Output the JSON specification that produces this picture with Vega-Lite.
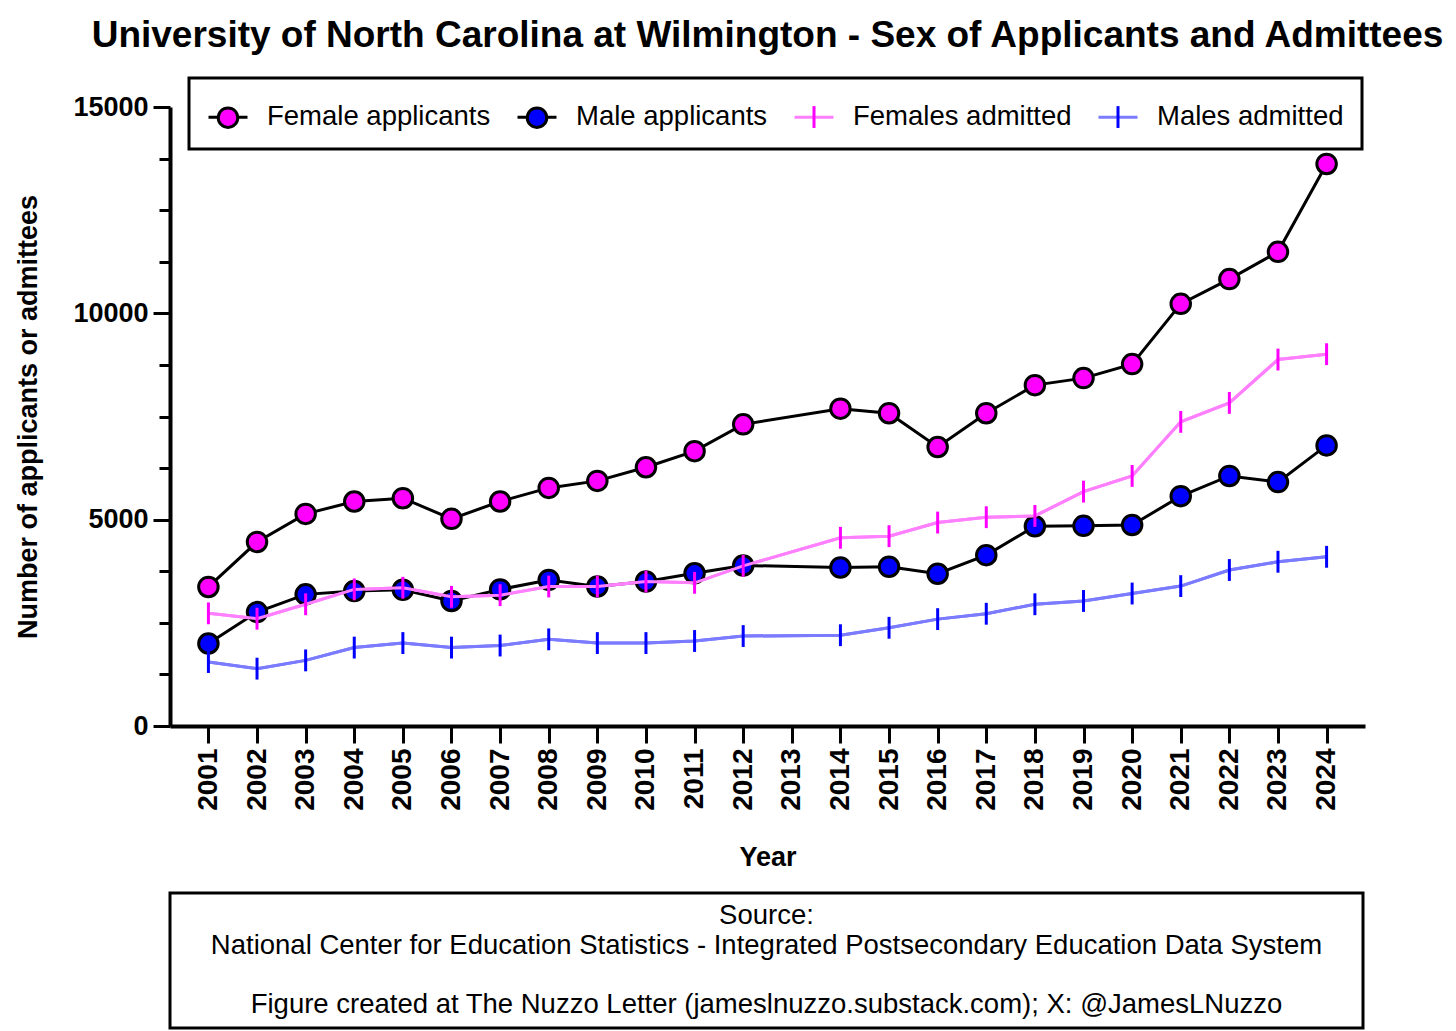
{
  "$schema": "https://vega.github.io/schema/vega-lite/v6.json",
  "background": "white",
  "padding": {"left": 14, "top": 17, "right": 0, "bottom": 0},
  "config": {
    "font": "Liberation Sans",
    "view": {"stroke": null},
    "axis": {"labelColor": "black", "titleColor": "black", "domainColor": "black", "tickColor": "black", "grid": false}
  },
  "spacing": 20,
  "vconcat": [
    {
      "width": 1195,
      "height": 619,
      "title": {
        "text": "University of North Carolina at Wilmington - Sex of Applicants and Admittees",
        "fontSize": 37,
        "fontWeight": "bold",
        "anchor": "middle",
        "frame": "group",
        "offset": 38,
        "color": "black"
      },
      "data": {
        "values": [
          {"series": "Female applicants", "year": 2001, "value": 3370},
          {"series": "Female applicants", "year": 2002, "value": 4460},
          {"series": "Female applicants", "year": 2003, "value": 5140},
          {"series": "Female applicants", "year": 2004, "value": 5440},
          {"series": "Female applicants", "year": 2005, "value": 5520},
          {"series": "Female applicants", "year": 2006, "value": 5020},
          {"series": "Female applicants", "year": 2007, "value": 5440},
          {"series": "Female applicants", "year": 2008, "value": 5770},
          {"series": "Female applicants", "year": 2009, "value": 5940},
          {"series": "Female applicants", "year": 2010, "value": 6270},
          {"series": "Female applicants", "year": 2011, "value": 6660},
          {"series": "Female applicants", "year": 2012, "value": 7310},
          {"series": "Female applicants", "year": 2014, "value": 7690},
          {"series": "Female applicants", "year": 2015, "value": 7580},
          {"series": "Female applicants", "year": 2016, "value": 6760},
          {"series": "Female applicants", "year": 2017, "value": 7580},
          {"series": "Female applicants", "year": 2018, "value": 8260},
          {"series": "Female applicants", "year": 2019, "value": 8430},
          {"series": "Female applicants", "year": 2020, "value": 8770},
          {"series": "Female applicants", "year": 2021, "value": 10230},
          {"series": "Female applicants", "year": 2022, "value": 10830},
          {"series": "Female applicants", "year": 2023, "value": 11490},
          {"series": "Female applicants", "year": 2024, "value": 13620},
          {"series": "Male applicants", "year": 2001, "value": 2000},
          {"series": "Male applicants", "year": 2002, "value": 2760},
          {"series": "Male applicants", "year": 2003, "value": 3190},
          {"series": "Male applicants", "year": 2004, "value": 3270},
          {"series": "Male applicants", "year": 2005, "value": 3300},
          {"series": "Male applicants", "year": 2006, "value": 3030},
          {"series": "Male applicants", "year": 2007, "value": 3310},
          {"series": "Male applicants", "year": 2008, "value": 3540},
          {"series": "Male applicants", "year": 2009, "value": 3380},
          {"series": "Male applicants", "year": 2010, "value": 3500},
          {"series": "Male applicants", "year": 2011, "value": 3700},
          {"series": "Male applicants", "year": 2012, "value": 3890},
          {"series": "Male applicants", "year": 2014, "value": 3840},
          {"series": "Male applicants", "year": 2015, "value": 3860},
          {"series": "Male applicants", "year": 2016, "value": 3690},
          {"series": "Male applicants", "year": 2017, "value": 4140},
          {"series": "Male applicants", "year": 2018, "value": 4840},
          {"series": "Male applicants", "year": 2019, "value": 4850},
          {"series": "Male applicants", "year": 2020, "value": 4870},
          {"series": "Male applicants", "year": 2021, "value": 5570},
          {"series": "Male applicants", "year": 2022, "value": 6060},
          {"series": "Male applicants", "year": 2023, "value": 5910},
          {"series": "Male applicants", "year": 2024, "value": 6800},
          {"series": "Females admitted", "year": 2001, "value": 2730},
          {"series": "Females admitted", "year": 2002, "value": 2600},
          {"series": "Females admitted", "year": 2003, "value": 2950},
          {"series": "Females admitted", "year": 2004, "value": 3310},
          {"series": "Females admitted", "year": 2005, "value": 3350},
          {"series": "Females admitted", "year": 2006, "value": 3130},
          {"series": "Females admitted", "year": 2007, "value": 3170},
          {"series": "Females admitted", "year": 2008, "value": 3380},
          {"series": "Females admitted", "year": 2009, "value": 3380},
          {"series": "Females admitted", "year": 2010, "value": 3500},
          {"series": "Females admitted", "year": 2011, "value": 3470},
          {"series": "Females admitted", "year": 2012, "value": 3880},
          {"series": "Females admitted", "year": 2014, "value": 4560},
          {"series": "Females admitted", "year": 2015, "value": 4600},
          {"series": "Females admitted", "year": 2016, "value": 4930},
          {"series": "Females admitted", "year": 2017, "value": 5060},
          {"series": "Females admitted", "year": 2018, "value": 5090},
          {"series": "Females admitted", "year": 2019, "value": 5680},
          {"series": "Females admitted", "year": 2020, "value": 6060},
          {"series": "Females admitted", "year": 2021, "value": 7370},
          {"series": "Females admitted", "year": 2022, "value": 7830},
          {"series": "Females admitted", "year": 2023, "value": 8880},
          {"series": "Females admitted", "year": 2024, "value": 9010},
          {"series": "Males admitted", "year": 2001, "value": 1550},
          {"series": "Males admitted", "year": 2002, "value": 1390},
          {"series": "Males admitted", "year": 2003, "value": 1590},
          {"series": "Males admitted", "year": 2004, "value": 1900},
          {"series": "Males admitted", "year": 2005, "value": 2010},
          {"series": "Males admitted", "year": 2006, "value": 1900},
          {"series": "Males admitted", "year": 2007, "value": 1950},
          {"series": "Males admitted", "year": 2008, "value": 2100},
          {"series": "Males admitted", "year": 2009, "value": 2010},
          {"series": "Males admitted", "year": 2010, "value": 2010},
          {"series": "Males admitted", "year": 2011, "value": 2060},
          {"series": "Males admitted", "year": 2012, "value": 2180},
          {"series": "Males admitted", "year": 2014, "value": 2200},
          {"series": "Males admitted", "year": 2015, "value": 2380},
          {"series": "Males admitted", "year": 2016, "value": 2590},
          {"series": "Males admitted", "year": 2017, "value": 2720},
          {"series": "Males admitted", "year": 2018, "value": 2950},
          {"series": "Males admitted", "year": 2019, "value": 3030},
          {"series": "Males admitted", "year": 2020, "value": 3210},
          {"series": "Males admitted", "year": 2021, "value": 3390},
          {"series": "Males admitted", "year": 2022, "value": 3780},
          {"series": "Males admitted", "year": 2023, "value": 3980},
          {"series": "Males admitted", "year": 2024, "value": 4100}
        ]
      },
      "encoding": {
        "x": {
          "field": "year",
          "type": "ordinal",
          "scale": {
            "type": "point",
            "domain": [2001, 2002, 2003, 2004, 2005, 2006, 2007, 2008, 2009, 2010, 2011, 2012, 2013, 2014, 2015, 2016, 2017, 2018, 2019, 2020, 2021, 2022, 2023, 2024],
            "padding": 0.79
          },
          "axis": {
            "title": "Year",
            "labelAngle": -90,
            "labelFontSize": 28,
            "labelFontWeight": "bold",
            "labelPadding": 5,
            "tickSize": 17,
            "tickWidth": 3,
            "domainWidth": 4,
            "titleFontSize": 27,
            "titleFontWeight": "bold",
            "titlePadding": 34
          }
        },
        "y": {
          "field": "value",
          "type": "quantitative",
          "scale": {"domain": [0, 15000], "nice": false, "zero": true},
          "axis": {
            "title": "Number of applicants or admittees",
            "values": [0, 1250, 2500, 3750, 5000, 6250, 7500, 8750, 10000, 11250, 12500, 13750, 15000],
            "labelExpr": "datum.value % 5000 === 0 ? format(datum.value, 'd') : ''",
            "labelFontSize": 27,
            "labelFontWeight": "bold",
            "labelPadding": 5,
            "tickSize": {"condition": {"test": "datum.value % 5000 === 0", "value": 17}, "value": 11},
            "tickWidth": 3,
            "domainWidth": 4,
            "titleFontSize": 27,
            "titleFontWeight": "bold",
            "titlePadding": 30
          }
        }
      },
      "layer": [
        {
          "mark": {"type": "line", "strokeWidth": 3},
          "encoding": {
            "color": {
              "field": "series",
              "type": "nominal",
              "sort": null,
              "scale": {"range": ["black", "black", "#ff80ff", "#7b7bff"]},
              "legend": {
                "title": null,
                "orient": "none",
                "legendX": 19,
                "legendY": -29,
                "direction": "horizontal",
                "symbolType": "stroke",
                "symbolSize": 1521,
                "symbolStrokeWidth": 3,
                "labelFontSize": 27.5,
                "labelLimit": 0,
                "labelColor": "black",
                "labelOffset": 18,
                "columnPadding": 20,
                "padding": 18,
                "strokeColor": "black",
                "fillColor": "white",
                "encode": {"legend": {"update": {"strokeWidth": {"value": 3}}}}
              }
            }
          }
        },
        {
          "transform": [{"filter": "datum.series === 'Female applicants' || datum.series === 'Male applicants'"}],
          "mark": {"type": "point", "filled": true, "opacity": 1, "size": 1521, "strokeWidth": 3},
          "encoding": {
            "fill": {
              "field": "series",
              "type": "nominal",
              "scale": {
                "domain": ["Female applicants", "Male applicants", "Females admitted", "Males admitted"],
                "range": ["#ff00ff", "#0000ff", "#ff00ff", "#0000ff"]
              },
              "legend": {
                "title": null,
                "orient": "none",
                "legendX": 19,
                "legendY": -29,
                "direction": "horizontal",
                "symbolSize": 1521,
                "symbolStrokeWidth": 3,
                "labelFontSize": 27.5,
                "labelLimit": 0,
                "labelOpacity": 0,
                "labelOffset": 18,
                "columnPadding": 20,
                "padding": 18
              }
            },
            "stroke": {
              "field": "series",
              "type": "nominal",
              "scale": {
                "domain": ["Female applicants", "Male applicants", "Females admitted", "Males admitted"],
                "range": ["black", "black", "#ff00ff", "#0000ff"]
              }
            },
            "shape": {
              "field": "series",
              "type": "nominal",
              "scale": {
                "domain": ["Female applicants", "Male applicants", "Females admitted", "Males admitted"],
                "range": [
                  "M-1,0L-1,0M1,0L1,0M-0.5,0A0.5,0.5,0,1,0,0.5,0A0.5,0.5,0,1,0,-0.5,0Z",
                  "M-1,0L-1,0M1,0L1,0M-0.5,0A0.5,0.5,0,1,0,0.5,0A0.5,0.5,0,1,0,-0.5,0Z",
                  "M-1,0L-1,0M1,0L1,0M0,-0.56L0,0.56",
                  "M-1,0L-1,0M1,0L1,0M0,-0.56L0,0.56"
                ]
              }
            }
          }
        },
        {
          "transform": [{"filter": "datum.series === 'Females admitted'"}],
          "mark": {"type": "line", "strokeWidth": 3, "color": "#ff80ff"},
          "encoding": {}
        },
        {
          "transform": [{"filter": "datum.series === 'Males admitted'"}],
          "mark": {"type": "line", "strokeWidth": 3, "color": "#7b7bff"},
          "encoding": {}
        },
        {
          "transform": [{"filter": "datum.series === 'Females admitted' || datum.series === 'Males admitted'"}],
          "mark": {"type": "point", "filled": true, "opacity": 1, "size": 1521, "strokeWidth": 3},
          "encoding": {
            "fill": {
              "field": "series",
              "type": "nominal",
              "scale": {
                "domain": ["Female applicants", "Male applicants", "Females admitted", "Males admitted"],
                "range": ["#ff00ff", "#0000ff", "#ff00ff", "#0000ff"]
              },
              "legend": {
                "title": null,
                "orient": "none",
                "legendX": 19,
                "legendY": -29,
                "direction": "horizontal",
                "symbolSize": 1521,
                "symbolStrokeWidth": 3,
                "labelFontSize": 27.5,
                "labelLimit": 0,
                "labelOpacity": 0,
                "labelOffset": 18,
                "columnPadding": 20,
                "padding": 18
              }
            },
            "stroke": {
              "field": "series",
              "type": "nominal",
              "scale": {
                "domain": ["Female applicants", "Male applicants", "Females admitted", "Males admitted"],
                "range": ["black", "black", "#ff00ff", "#0000ff"]
              }
            },
            "shape": {
              "field": "series",
              "type": "nominal",
              "scale": {
                "domain": ["Female applicants", "Male applicants", "Females admitted", "Males admitted"],
                "range": [
                  "M-1,0L-1,0M1,0L1,0M-0.5,0A0.5,0.5,0,1,0,0.5,0A0.5,0.5,0,1,0,-0.5,0Z",
                  "M-1,0L-1,0M1,0L1,0M-0.5,0A0.5,0.5,0,1,0,0.5,0A0.5,0.5,0,1,0,-0.5,0Z",
                  "M-1,0L-1,0M1,0L1,0M0,-0.56L0,0.56",
                  "M-1,0L-1,0M1,0L1,0M0,-0.56L0,0.56"
                ]
              }
            }
          }
        }
      ]
    },
    {
      "width": 1193,
      "height": 135,
      "view": {"stroke": "black", "strokeWidth": 3, "fill": "white"},
      "data": {
        "values": [
          {"line": 1, "text": "Source:"},
          {"line": 2, "text": "National Center for Education Statistics - Integrated Postsecondary Education Data System"},
          {"line": 4, "text": "Figure created at The Nuzzo Letter (jameslnuzzo.substack.com); X: @JamesLNuzzo"}
        ]
      },
      "mark": {"type": "text", "fontSize": 27.5, "color": "black", "align": "center", "baseline": "middle"},
      "encoding": {
        "y": {
          "field": "line",
          "type": "ordinal",
          "scale": {"type": "point", "domain": [1, 2, 3, 4], "padding": 0.8},
          "axis": null
        },
        "text": {"field": "text"}
      }
    }
  ]
}
